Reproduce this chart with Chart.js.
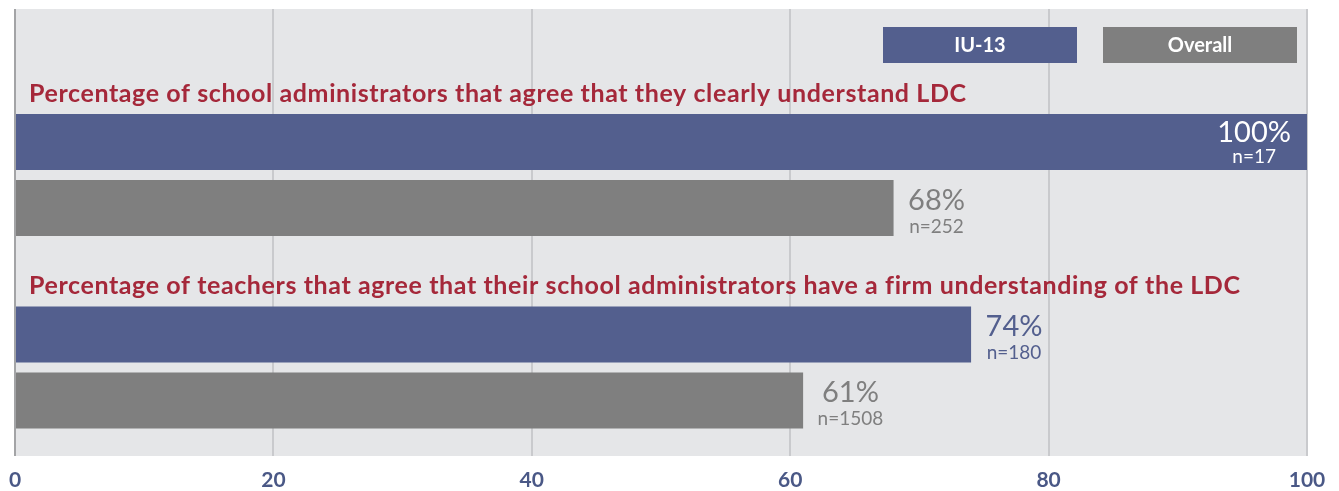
<!DOCTYPE html>
<html>
<head>
<meta charset="utf-8">
<script src="https://cdn.jsdelivr.net/npm/chart.js@4"></script>
<style>
  html, body { margin: 0; padding: 0; background: #fff; }
  #wrap { width: 1339px; height: 491px; }
</style>
</head>
<body>
<div id="wrap"><canvas id="barChart"></canvas></div>
<script>
// chart data
var questions = [
  'Percentage of school administrators that agree that they clearly understand LDC',
  'Percentage of teachers that agree that their school administrators have a firm understanding of the LDC'
];
var seriesNames = ['IU-13', 'Overall'];
var iuValues = [100, 74];
var overallValues = [68, 61];
var iuCounts = [17, 180];
var overallCounts = [252, 1508];
var xTicks = [0, 20, 40, 60, 80, 100];

var BLUE = '#535f8e';
var GRAY = '#7f7f7f';
var FONT = 'Lato, "Open Sans", sans-serif';

// plot background + titles + legend + value labels
var decorations = {
  id: 'decorations',
  beforeDraw: function(chart) {
    var c = chart.ctx, a = chart.chartArea;
    c.save();
    c.fillStyle = '#fff';
    c.fillRect(0, 0, chart.width, chart.height);
    c.fillStyle = '#e5e6e8';
    c.fillRect(a.left, a.top, a.right - a.left, a.bottom - a.top);
    c.restore();
  },
  afterDatasetsDraw: function(chart) {
    var c = chart.ctx, a = chart.chartArea;
    c.save();

    // question titles above each group
    var first = chart.getDatasetMeta(0).data;
    c.font = 'bold 25px ' + FONT;
    c.letterSpacing = '0.6px';
    c.fillStyle = '#a5283a';
    c.textAlign = 'left';
    c.textBaseline = 'alphabetic';
    first.forEach(function(bar, i) {
      c.fillText(questions[i], a.left + 14, bar.y - bar.height / 2 - 12);
    });
    c.letterSpacing = '0px';

    // legend boxes
    var colors = [BLUE, GRAY];
    var boxW = 194, boxH = 36, gap = 26;
    var x0 = a.right - 10 - boxW * 2 - gap;
    c.textBaseline = 'middle';
    seriesNames.forEach(function(name, i) {
      var bx = x0 + i * (boxW + gap);
      c.fillStyle = colors[i];
      c.fillRect(bx, 27, boxW, boxH);
      c.fillStyle = '#fff';
      c.font = 'bold 20px ' + FONT;
      c.textAlign = 'center';
      c.fillText(name, bx + boxW / 2, 27 + boxH / 2 + 1);
    });

    // value labels
    var counts = [iuCounts, overallCounts];
    c.textBaseline = 'alphabetic';
    chart.data.datasets.forEach(function(ds, di) {
      chart.getDatasetMeta(di).data.forEach(function(bar, i) {
        var pct = ds.data[i].x + '%';
        var n = 'n=' + counts[di][i];
        c.font = '29px ' + FONT;
        var w1 = c.measureText(pct).width;
        c.font = '19px ' + FONT;
        var w2 = c.measureText(n).width;
        var w = Math.max(w1, w2);
        var inside = bar.x + w + 20 > a.right;
        var cx = inside ? bar.x - 16 - w / 2 : bar.x + 14.5 + w / 2;
        c.fillStyle = inside ? '#fff' : colors[di];
        c.textAlign = 'center';
        c.font = '29px ' + FONT;
        c.fillText(pct, cx, bar.y + (inside ? 0 : 2));
        c.font = '19px ' + FONT;
        c.fillText(n, cx, bar.y + (inside ? 21 : 25));
      });
    });
    c.restore();
  }
};

var ctx = document.getElementById('barChart').getContext('2d');
var barChart = new Chart(ctx, {
  type: 'bar',
  data: {
    datasets: [{
      label: seriesNames[0],
      data: iuValues.map(function(v, i) { return { x: v, y: i }; }),
      backgroundColor: BLUE
    }, {
      label: seriesNames[1],
      data: overallValues.map(function(v, i) { return { x: v, y: i }; }),
      backgroundColor: GRAY
    }]
  },
  options: {
    indexAxis: 'y',
    responsive: true,
    maintainAspectRatio: false,
    animation: false,
    devicePixelRatio: 1,
    categoryPercentage: 0.686,
    barPercentage: 0.848,
    layout: { padding: { left: 15, right: 32, top: 9, bottom: -14 } },
    plugins: { legend: { display: false }, tooltip: { enabled: false } },
    scales: {
      x: {
        min: 0,
        max: 100,
        afterBuildTicks: function(s) { s.ticks = xTicks.map(function(v) { return { value: v }; }); },
        afterFit: function(s) { s.paddingLeft = 0; s.paddingRight = 0; },
        grid: {
          drawTicks: false,
          lineWidth: 2,
          color: function(ctx) { return ctx.tick && ctx.tick.value === 0 ? '#a3a4a6' : '#c9cacd'; }
        },
        border: { display: false },
        ticks: {
          padding: 14,
          color: '#4a5886',
          font: { family: FONT, size: 21, weight: 'bold', lineHeight: 1 }
        }
      },
      y: {
        type: 'linear',
        reverse: true,
        offset: false,
        min: -0.862,
        max: 1.46,
        display: false,
        afterBuildTicks: function(s) { s.ticks = [{ value: 0 }, { value: 1 }]; }
      }
    }
  },
  plugins: [decorations]
});
</script>
</body>
</html>
